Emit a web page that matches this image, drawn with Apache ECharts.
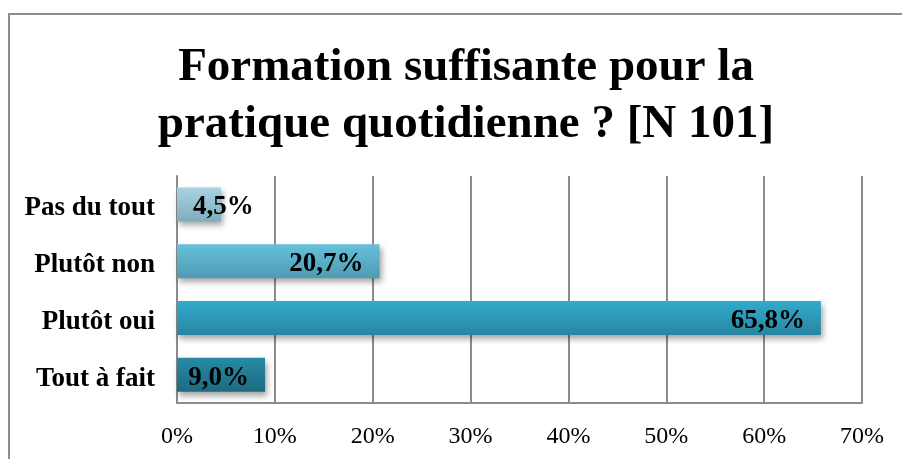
<!DOCTYPE html>
<html>
<head>
<meta charset="utf-8">
<script src="https://cdn.jsdelivr.net/npm/echarts@6/dist/echarts.min.js"></script>
<style>
  html, body { margin: 0; padding: 0; background: #fff; }
  #frame { position: absolute; left: 8px; top: 13px; width: 900px; height: 450px;
           border-left: 2px solid #8c8c8c; border-top: 2px solid #8c8c8c; }
  #main { position: absolute; left: 0; top: 0; width: 902px; height: 459px; }
</style>
</head>
<body>
<div id="frame"></div>
<div id="main"></div>
<script>
// categories from top to bottom
var categories = ['Pas du tout', 'Plutôt non', 'Plutôt oui', 'Tout à fait'];
var values = [4.5, 20.7, 65.8, 9.0];
var topColors = ['#a9d3e3', '#67c0da', '#31abcc', '#278ba7'];
var bottomColors = ['#7fadbd', '#4e9bb3', '#2886a2', '#1e6a80'];

var serif = '"Liberation Serif", "Times New Roman", serif';

var barData = values.map(function (v, i) {
    var item = {
        value: v,
        itemStyle: {
            color: new echarts.graphic.LinearGradient(0, 0, 0, 1, [
                { offset: 0, color: topColors[i] },
                { offset: 1, color: bottomColors[i] }
            ])
        }
    };
    // too short for the label: Excel pushes it from the bar start
    if (v < 8) {
        item.label = { position: 'insideLeft', distance: 16 };
    }
    return item;
});

var option = {
    animation: false,
    title: {
        text: 'Formation suffisante pour la\npratique quotidienne ? [N 101]',
        left: 461,
        top: 34,
        textAlign: 'center',
        textStyle: {
            fontFamily: serif,
            fontWeight: 'bold',
            fontSize: 47,
            lineHeight: 57,
            color: '#000'
        }
    },
    grid: { left: 177, right: 40, top: 176, bottom: 56 },
    xAxis: {
        type: 'value',
        min: 0,
        max: 70,
        interval: 10,
        axisLine: { show: true, lineStyle: { color: '#8c8c8c', width: 2 } },
        axisTick: { show: false },
        splitLine: { show: true, lineStyle: { color: '#8c8c8c', width: 2 } },
        axisLabel: {
            margin: 22,
            fontFamily: serif,
            fontSize: 24,
            color: '#000',
            formatter: function (v) { return v + '%'; }
        }
    },
    yAxis: {
        type: 'category',
        inverse: true,
        data: categories,
        axisLine: { show: true, lineStyle: { color: '#8c8c8c', width: 2 } },
        axisTick: { show: false },
        axisLabel: {
            margin: 22,
            formatter: function (v) { return '{c|' + v + '}'; },
            rich: {
                c: {
                    padding: [8, 0, 0, 0],
                    fontFamily: serif,
                    fontWeight: 'bold',
                    fontSize: 27,
                    color: '#000'
                }
            }
        }
    },
    series: [{
        type: 'bar',
        data: barData,
        barWidth: 34,
        itemStyle: {
            shadowColor: 'rgba(0,0,0,0.35)',
            shadowBlur: 6,
            shadowOffsetX: 2,
            shadowOffsetY: 4
        },
        label: {
            show: true,
            position: 'insideRight',
            distance: 16,
            offset: [0, 3],
            fontFamily: serif,
            fontWeight: 'bold',
            fontSize: 27,
            color: '#000',
            formatter: function (p) { return p.value.toFixed(1).replace('.', ',') + '%'; }
        }
    }]
};

var chart = echarts.init(document.getElementById('main'));
chart.setOption(option);
</script>
</body>
</html>
